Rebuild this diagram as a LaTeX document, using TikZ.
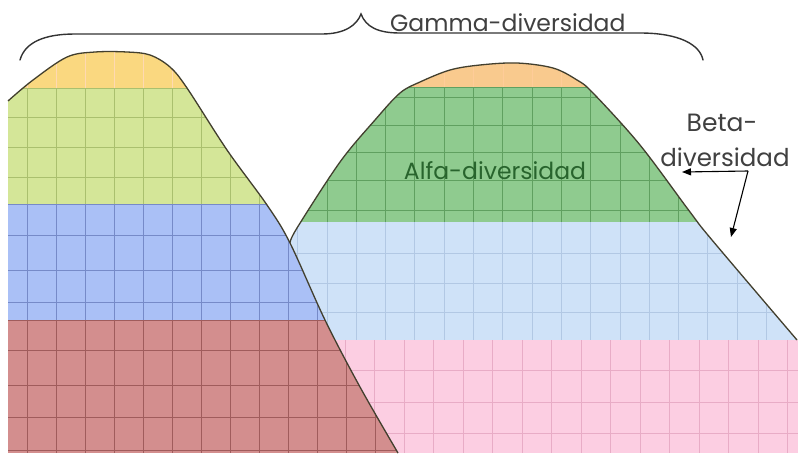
\documentclass[tikz,border=0pt]{standalone}
\usepackage{fontspec}
\setmainfont{Poppins}
\usetikzlibrary{arrows.meta}
\definecolor{lorange}{RGB}{250,216,128}
\definecolor{lgreen}{RGB}{212,230,152}
\definecolor{lblue}{RGB}{170,192,246}
\definecolor{lred}{RGB}{211,142,142}
\definecolor{rorange}{RGB}{249,202,142}
\definecolor{rgreen}{RGB}{143,203,143}
\definecolor{rlblue}{RGB}{207,226,248}
\definecolor{rpink}{RGB}{252,206,226}
\definecolor{textgray}{RGB}{64,64,64}
\definecolor{alfagreen}{RGB}{40,100,45}
\definecolor{lbgrid}{RGB}{178,200,228}
\definecolor{pkgrid}{RGB}{232,172,198}
\definecolor{rggrid}{RGB}{96,160,96}
\definecolor{lggrid}{RGB}{170,192,110}
\definecolor{blgrid}{RGB}{118,138,200}
\definecolor{rdgrid}{RGB}{160,92,92}
\tikzset{
  outline/.style={draw=black!70!olive, line width=1.3pt},
  gridline/.style={line width=0.7pt},
  bracepath/.style={draw=black!80, line width=1.4pt, line cap=round},
  lbl/.style={font=\fontsize{23.5}{26}\selectfont, text=textgray, inner sep=0pt},
  betaarrow/.style={draw=black, line width=1.1pt, -{Triangle[length=9pt,width=7pt]}}
}
\begin{document}
\begin{tikzpicture}[x=1pt,y=-1pt]
\useasboundingbox[fill=white] (0,0) rectangle (798,453);

% ---------- right mountain ----------
\begin{scope}
\clip (200,453) -- plot[smooth,tension=0.55] coordinates {(290,243) (297,228) (340,162) (375,120) (400,93) (420,82) (450,70) (480,65) (517,63) (553,68) (577,80) (593,93) (640,145) (690,212) (712,240) (797,340)} -- (798,340) -- (798,453) -- cycle;
\fill[rorange] (0,0) rectangle (798,87);
\fill[rgreen] (0,87) rectangle (798,222);
\fill[rlblue] (0,222) rectangle (798,340);
\fill[rpink] (0,340) rectangle (798,453);
\begin{scope}
\clip (0,0) rectangle (798,87);
\foreach \x in {415,444.3,...,798} \draw[gridline, draw=orange!40] (\x,0) -- (\x,87);
\end{scope}
\begin{scope}
\clip (0,87) rectangle (798,222);
\foreach \x in {297.6,326.9,...,798} \draw[gridline, draw=rggrid] (\x,87) -- (\x,222);
\foreach \y in {97,125,152,180,210} \draw[gridline, draw=rggrid] (0,\y) -- (798,\y);
\end{scope}
\begin{scope}
\clip (0,222) rectangle (798,340);
\foreach \x in {297.6,326.9,...,798} \draw[gridline, draw=lbgrid] (\x,222) -- (\x,340);
\foreach \y in {253,283,312} \draw[gridline, draw=lbgrid] (0,\y) -- (798,\y);
\end{scope}
\begin{scope}
\clip (0,340) rectangle (798,453);
\foreach \x in {286,315.5,...,798} \draw[gridline, draw=pkgrid] (\x,340) -- (\x,453);
\foreach \y in {370,402,433} \draw[gridline, draw=pkgrid] (0,\y) -- (798,\y);
\end{scope}
\draw[gridline, draw=rggrid] (0,87) -- (798,87);
\end{scope}
\draw[outline] plot[smooth,tension=0.55] coordinates {(290,243) (297,228) (340,162) (375,120) (400,93) (420,82) (450,70) (480,65) (517,63) (553,68) (577,80) (593,93) (640,145) (690,212) (712,240) (797,340)};

% ---------- left mountain ----------
\begin{scope}
\clip plot[smooth,tension=0.55] coordinates {(8,101) (33,80) (67,57) (95,52) (127,52) (150,55) (170,67) (187,88) (227,150) (267,205) (290,243) (325,320) (360,387) (398,453)} -- (8,453) -- cycle;
\fill[lorange] (0,0) rectangle (798,88);
\fill[lgreen] (0,88) rectangle (798,204);
\fill[lblue] (0,204) rectangle (798,320);
\fill[lred] (0,320) rectangle (798,453);
\begin{scope}
\clip (0,0) rectangle (798,88);
\foreach \x in {27,56,...,400} \draw[gridline, draw=orange!30] (\x,0) -- (\x,88);
\end{scope}
\begin{scope}
\clip (0,88) rectangle (798,204);
\foreach \x in {27,56,...,400} \draw[gridline, draw=lggrid] (\x,88) -- (\x,204);
\foreach \y in {117,147,177} \draw[gridline, draw=lggrid] (0,\y) -- (798,\y);
\end{scope}
\begin{scope}
\clip (0,204) rectangle (798,320);
\foreach \x in {27,56,...,400} \draw[gridline, draw=blgrid] (\x,204) -- (\x,320);
\foreach \y in {235,270,302} \draw[gridline, draw=blgrid] (0,\y) -- (798,\y);
\end{scope}
\begin{scope}
\clip (0,320) rectangle (798,453);
\foreach \x in {27,56,...,400} \draw[gridline, draw=rdgrid] (\x,320) -- (\x,453);
\foreach \y in {350,385,417,450} \draw[gridline, draw=rdgrid] (0,\y) -- (798,\y);
\end{scope}
\draw[gridline, draw=lggrid] (0,88) -- (798,88);
\draw[gridline, draw=blgrid] (0,204) -- (798,204);
\draw[gridline, draw=rdgrid] (0,320) -- (798,320);
\end{scope}
\draw[outline] plot[smooth,tension=0.55] coordinates {(8,101) (33,80) (67,57) (95,52) (127,52) (150,55) (170,67) (187,88) (227,150) (267,205) (290,243) (325,320) (360,387) (398,453)};

% ---------- gamma brace ----------
\coordinate (bl) at (20,60);
\coordinate (bt) at (361,14);
\coordinate (br) at (703,60);
\draw[bracepath] (bl) .. controls (25,42) and (45,34) .. (75,34) -- (322,34) .. controls (345,34) and (357,25) .. (bt) .. controls (366,27) and (378,33) .. (400,33) -- (640,33) .. controls (680,33) and (700,45) .. (br);
\node[lbl, anchor=base west] (gamma) at (390,31) {Gamma-diversidad};

% ---------- labels ----------
\node[lbl, text=alfagreen, anchor=base] (alfa) at (495,179) {Alfa-diversidad};
\node[lbl, font=\fontsize{25}{27}\selectfont, anchor=base] (beta1) at (722,131) {Beta-};
\node[lbl, font=\fontsize{24.5}{27}\selectfont, anchor=base] (beta2) at (725,166) {diversidad};
\coordinate (bj) at (748,171);
\coordinate (ba) at (682,172);
\coordinate (bb) at (731,237);
\draw[betaarrow] (bj) -- (ba);
\draw[betaarrow] (bj) -- (bb);
\end{tikzpicture}
\end{document}
